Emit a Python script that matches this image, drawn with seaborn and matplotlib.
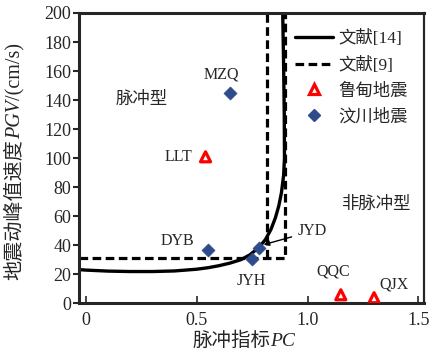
import matplotlib
matplotlib.use("Agg")
import matplotlib.pyplot as plt
from matplotlib.lines import Line2D
from matplotlib.transforms import IdentityTransform
import seaborn as sns
import pandas as pd

# Threshold curve from ref. [14] (PC, PGV) and the piecewise bound of ref. [9]
curve14_pc = [-0.03, 0.0, 0.1, 0.2, 0.3, 0.4, 0.5, 0.55, 0.6, 0.65, 0.7, 0.74, 0.78, 0.81,
              0.835, 0.855, 0.87, 0.882, 0.892, 0.896, 0.895, 0.892, 0.888]
curve14_pgv = [23.3, 23.0, 22.3, 22.0, 22.0, 22.4, 23.6, 24.6, 26.0, 27.8, 30.2, 33.5, 38.5, 44.0,
               51.0, 59.0, 67.0, 76.0, 88.0, 100.0, 130.0, 165.0, 200.0]
bound9_pc = [-0.03, 0.9, 0.9]
bound9_pgv = [31.0, 31.0, 200.0]
bound9b_pc = [0.818, 0.818]
bound9b_pgv = [31.0, 200.0]

# Ludian earthquake records
ludian_names = ["LLT", "QQC", "QJX"]
ludian_pc = [0.54, 1.15, 1.30]
ludian_pgv = [101.0, 6.0, 4.0]

# Wenchuan earthquake records
wenchuan_names = ["MZQ", "DYB", "JYH", "JYD"]
wenchuan_pc = [0.65, 0.55, 0.75, 0.78]
wenchuan_pgv = [145.0, 37.0, 30.5, 38.0]

x_ticks = [0, 0.5, 1.0, 1.5]
x_tick_labels = ["0", "0.5", "1.0", "1.5"]
y_ticks = list(range(0, 201, 20))

sns.set_theme(style="ticks")
plt.rcParams["font.family"] = ["Liberation Serif", "Noto Sans CJK SC"]

DPI = 100
fig = plt.figure(figsize=(4.30, 3.56), dpi=DPI)
ax = fig.add_axes([0.184, 0.1475, 0.802, 0.816])

c14 = pd.DataFrame({"pc": curve14_pc, "pgv": curve14_pgv})
b9 = pd.DataFrame({"pc": bound9_pc, "pgv": bound9_pgv})
b9b = pd.DataFrame({"pc": bound9b_pc, "pgv": bound9b_pgv})

dash = (2.7, 1.4)
sns.lineplot(data=b9, x="pc", y="pgv", sort=False, estimator=None, ax=ax,
             color="black", linewidth=2.3)
ax.lines[-1].set_dashes(dash)
sns.lineplot(data=b9b, x="pc", y="pgv", sort=False, estimator=None, ax=ax,
             color="black", linewidth=2.3)
ax.lines[-1].set_dashes(dash)
sns.lineplot(data=c14, x="pc", y="pgv", sort=False, estimator=None, ax=ax,
             color="black", linewidth=2.4)

blue = "#2E4C8C"
sns.scatterplot(x=wenchuan_pc, y=wenchuan_pgv, marker="D", s=44, color=blue,
                edgecolor=blue, linewidth=0.5, ax=ax, zorder=5)
sns.scatterplot(x=ludian_pc, y=ludian_pgv, marker="^", s=52, facecolor="none",
                edgecolor="#FF0000", linewidth=2.3, ax=ax, zorder=5)

# the axis titles are laid out by hand below (mixed upright / italic runs)
ax.set_xlabel("")
ax.set_ylabel("")

fs = 11.5
ax.text(0.613, 157.8, "MZQ", ha="center", va="center", fontsize=fs)
ax.text(0.482, 101, "LLT", ha="right", va="center", fontsize=fs)
ax.text(0.491, 42.9, "DYB", ha="right", va="center", fontsize=fs)
ax.text(0.745, 15.2, "JYH", ha="center", va="center", fontsize=fs)
ax.text(1.115, 22.1, "QQC", ha="center", va="center", fontsize=fs)
ax.text(1.324, 13.1, "QJX", ha="left", va="center", fontsize=fs)
ax.annotate("JYD", xy=(0.802, 40.5), xytext=(0.955, 49.8), ha="left", va="center",
            fontsize=fs,
            arrowprops=dict(arrowstyle="-|>", color="black", lw=1.0,
                            mutation_scale=8, shrinkA=2, shrinkB=0))
ax.text(0.252, 140.5, "脉冲型", ha="center", va="center", fontsize=12.5)
ax.text(1.306, 67.8, "非脉冲型", ha="center", va="center", fontsize=12.5)

ax.set_xlim(-0.03, 1.525)
ax.set_ylim(0, 200)
ax.set_xticks(x_ticks)
ax.set_xticklabels(x_tick_labels)
ax.set_yticks(y_ticks)
ax.tick_params(axis="x", direction="in", length=5, width=1.2, labelsize=13, pad=6)
ax.tick_params(axis="y", direction="out", length=4.5, width=1.5, labelsize=13, pad=1)
for side in ["left", "bottom", "top"]:
    ax.spines[side].set_linewidth(2.2)
ax.spines["right"].set_linewidth(1.6)

handles = [
    Line2D([], [], color="black", linewidth=2.4),
    Line2D([], [], color="black", linewidth=2.3, dashes=dash),
    Line2D([], [], color="#FF0000", marker="^", linestyle="none", markersize=7.2,
           markerfacecolor="none", markeredgewidth=2.3),
    Line2D([], [], color=blue, marker="D", linestyle="none", markersize=6.6),
]
labels = ["文献[14]", "文献[9]", "鲁甸地震", "汶川地震"]
ax.legend(handles, labels, loc="upper left", bbox_to_anchor=(0.626, 0.941),
          frameon=False, fontsize=12.5, handlelength=2.2, handletextpad=0.3,
          labelspacing=0.55, borderpad=0, borderaxespad=0)


def label_run(pieces, center, baseline, fontsize, vertical=False):
    """Lay out a run of text pieces (upright / italic) end to end, centred on `center`
    (pixels along the run) with the baseline at `baseline` (pixels across it)."""
    renderer = fig.canvas.get_renderer()
    rot = 90 if vertical else 0
    items = []
    for s, style in pieces:
        t = fig.text(0, 0, s, fontsize=fontsize, style=style, rotation=rot,
                     rotation_mode="anchor", ha="left", va="baseline",
                     transform=IdentityTransform())
        bb = t.get_window_extent(renderer)
        items.append((t, bb.height if vertical else bb.width))
    pos = center - sum(w for _, w in items) / 2
    for t, w in items:
        t.set_position((baseline, pos) if vertical else (pos, baseline))
        pos += w


H = 356
# x label: 脉冲指标PC
label_run([("脉冲指标", "normal"), ("PC", "italic")], center=244, baseline=H - 346,
          fontsize=14)
# y label: 地震动峰值速度PGV/(cm/s)
label_run([("地震动峰值速度", "normal"), ("PGV", "italic"), ("/(cm/s)", "normal")],
          center=H - 161.5, baseline=20, fontsize=14.5, vertical=True)

fig.savefig("out.png", dpi=DPI)
